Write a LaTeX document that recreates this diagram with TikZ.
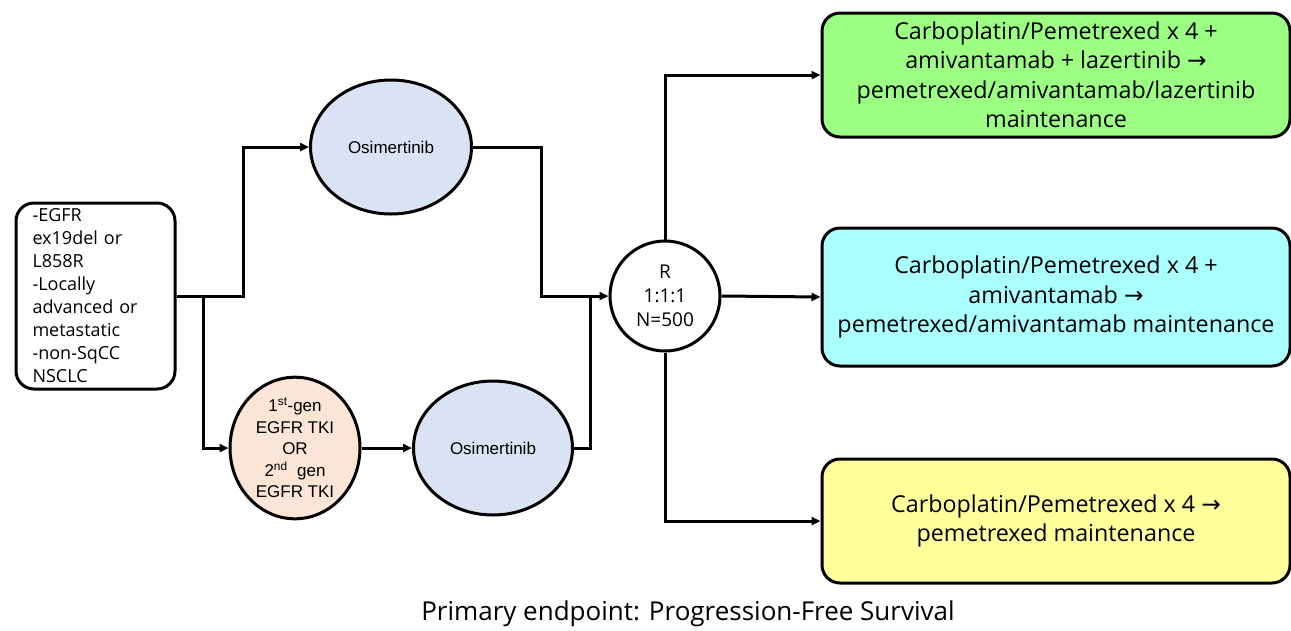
\documentclass[tikz,border=0pt]{standalone}
\usepackage{fontspec}
\setmainfont{Open Sans}
\newfontfamily\arialfont{Liberation Sans}
\newfontfamily\arrowfont{DejaVu Sans}
\usetikzlibrary{arrows.meta, shapes.geometric}
\definecolor{osiblue}{HTML}{DAE3F3}
\definecolor{tkipeach}{HTML}{FBE5D6}
\definecolor{armgreen}{HTML}{9CFF84}
\definecolor{armcyan}{HTML}{AAFFFF}
\definecolor{armyellow}{HTML}{FFFF9C}
\newcommand\thento{{\arrowfont\char"2192}}
\tikzset{
  arr/.style={-{Triangle[length=9pt,width=8pt]}},
  armbox/.style={draw, line width=3pt, rounded corners=18pt, minimum width=468pt, align=center,
    font=\fontsize{23.3}{29.5}\selectfont},
  drug/.style={draw, ellipse, line width=3pt, font=\arialfont\fontsize{17}{21.5}\selectfont, align=center}
}
\begin{document}
\begin{tikzpicture}[x=1pt, y=-1pt, line width=3pt]
\useasboundingbox (0,0) rectangle (1291,630);
\node[draw, line width=3pt, rounded corners=18pt, minimum width=159pt, minimum height=186pt,
  text width=126pt, align=left, inner sep=0pt, font=\fontsize{18}{23}\selectfont] (pop) at (95.5,296)
  {-EGFR\\ex19del or\\L858R\\-Locally\\advanced or\\metastatic\\-non-SqCC\\NSCLC};
\node[drug, fill=osiblue, minimum width=161pt, minimum height=134pt] (osi1) at (391,147) {Osimertinib};
\node[drug, fill=tkipeach, minimum width=130pt, minimum height=132pt, inner sep=0pt] (tki) at (295,448)
  {1\textsuperscript{st}-gen\\EGFR TKI\\OR\\2\textsuperscript{nd}~~gen\\EGFR TKI};
\node[drug, fill=osiblue, minimum width=159pt, minimum height=134pt] (osi2) at (493,448) {Osimertinib};
\node[draw, circle, line width=3pt, minimum size=110pt, inner sep=0pt, align=center,
  font=\fontsize{19}{24}\selectfont] (rand) at (665,296) {R\\1:1:1\\N=500};
\node[armbox, fill=armgreen, minimum height=124pt] (armA) at (1056,75)
  {Carboplatin/Pemetrexed x 4 +\\amivantamab + lazertinib \thento\\pemetrexed/amivantamab/lazertinib\\maintenance};
\node[armbox, fill=armcyan, minimum height=138pt] (armB) at (1056,297)
  {Carboplatin/Pemetrexed x 4 +\\amivantamab \thento\\pemetrexed/amivantamab maintenance};
\node[armbox, fill=armyellow, minimum height=124pt] (armC) at (1056,521)
  {Carboplatin/Pemetrexed x 4 \thento\\pemetrexed maintenance};
\node[font=\fontsize{26}{30}\selectfont] (endpt) at (688,614) {Primary endpoint: Progression-Free Survival};
\coordinate (split) at (203,296);
\coordinate (join) at (590,296);
\draw[arr] (pop.east) -- ++(67,0) |- (osi1.west);
\draw[arr] (split) |- (tki.west);
\draw[arr] (tki.east) -- (osi2.west);
\draw[arr] (osi1.east) -- ++(68,0) |- (rand.west);
\draw (osi2.east) -| (join);
\draw[arr] (rand.north) |- (armA.west);
\draw[arr] (rand.east) -- (armB.west);
\draw[arr] (rand.south) |- (armC.west);
\end{tikzpicture}
\end{document}
